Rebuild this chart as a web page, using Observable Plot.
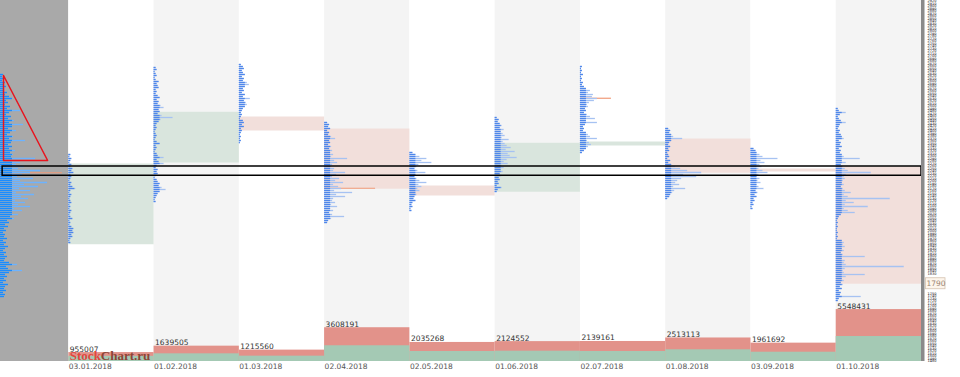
<!DOCTYPE html>
<html><head><meta charset="utf-8">
<script src="https://cdn.jsdelivr.net/npm/d3@7"></script>
<script src="https://cdn.jsdelivr.net/npm/@observablehq/plot@0.6"></script>
<style>
body{margin:0;background:#fff;}
#wrap{position:relative;width:960px;height:377px;}
#wrap svg{position:absolute;left:0;top:0;}
</style></head><body><div id="wrap"></div>
<script>
// ---------- data ----------
const monthLabels = ["03.01.2018","01.02.2018","01.03.2018","02.04.2018","02.05.2018","01.06.2018","02.07.2018","01.08.2018","03.09.2018","01.10.2018"];
const openPrice  = [1948, 2275, 2455, 2407, 2179, 2158, 2343, 2367, 2247, 2256];
const closePrice = [2267, 2474, 2403, 2170, 2143, 2350, 2355, 2234, 2239, 1790];
const volume   = [955007, 1639505, 1215560, 3608191, 2035268, 2124552, 2139161, 2513113, 1961692, 5548431];
const upVolume = [550000, 820000, 570000, 1680000, 1070000, 1100000, 1070000, 1250000, 990000, 2670000];
const lastPrice = 1790;
const profileStep = 8;
// top price level of each volume profile (summary first, then months)
const summaryTop = 2627;
const monthProfileTop = [2307, 2655, 2667, 2435, 2315, 2455, 2659, 2411, 2331, 2491];
// profile volumes (relative units) from the top level downwards
const summaryProfile = [3,2,4,2,5,3,6,4,3,7,5,9,12,6,8,5,10,7,20,9,6,11,8,14,9,23,12,8,16,10,7,13,9,25,11,8,12,9,15,10,13,11,35,14,20,16,24,18,40,30,22,17,33,20,47,24,38,19,30,16,34,21,28,15,25,18,30,14,22,12,18,10,14,7,9,5,8,4,6,3,5,4,7,3,6,4,8,5,3,6,4,7,5,4,9,17,6,8,22,9,5,7,4,6,3,8,5,4,6,3,5,4];
const janProfile = [2,1,3,2,1,3,2,4,3,5,2,3,2,1,3,2,4,7,2,1,3,2,1,2,3,1,2,1,3,2,1,2,4,1,2,1,3,5,4,5,3,4,2,1,2];
const febProfile = [2,3,1,2,3,1,2,5,3,4,5,2,3,2,4,6,3,5,4,7,10,5,6,4,8,19,7,5,3,2,3,2,1,2,3,2,1,3,6,2,3,2,1,3,4,10,3,5,10,3,2,4,3,4,2,1,3,4,6,5,8,12,6,4,3,2,1,2];
const marProfile = [2,4,5,3,4,6,3,5,4,8,10,6,4,5,3,6,4,11,5,7,8,6,4,3,2,3,2,1,4,5,3,5,2,3,2,1,2,1,2,1];
const aprProfile = [3,5,4,6,3,5,4,7,11,5,6,4,7,5,8,6,9,7,23,10,13,8,7,10,9,21,12,8,15,11,19,9,14,17,10,28,12,21,9,8,11,7,13,6,9,5,8,20,7,4,3];
const mayProfile = [3,6,10,17,12,22,9,7,5,8,16,6,5,7,10,17,9,12,8,10,6,7,5,4,6,3,2,3,1,2];
const junProfile = [2,4,3,5,7,5,9,6,8,10,7,14,8,10,12,16,11,20,13,15,22,12,9,13,7,9,6,8,5,7,4,5,3,4,2,7,3,2];
const julProfile = [2,1,2,1,3,1,2,1,3,2,4,6,10,8,13,12,17,14,9,7,8,5,6,4,7,10,15,6,17,5,3,4,3,6,8,10,17,7,9,11,8,6,4,2];
const augProfile = [3,5,4,6,8,17,6,4,3,5,3,4,2,3,4,2,5,3,6,10,15,22,36,18,31,16,12,10,14,8,20,9,7,5,4,2];
const sepProfile = [3,5,6,9,12,27,10,14,9,11,8,12,17,8,6,9,7,10,6,8,13,5,7,4,6,3,4,2,3,1,2];
const octProfile = [2,3,10,4,2,3,5,10,4,3,2,4,3,5,6,8,3,5,4,6,3,5,4,6,8,24,6,10,5,7,9,12,35,10,8,9,7,6,8,5,7,9,15,8,12,54,10,18,9,32,8,12,19,5,3,2,1,2,1,2,1,1,2,1,2,1,6,8,7,9,6,8,5,7,29,6,9,8,10,68,9,7,8,29,10,6,8,5,7,4,6,3,5,4,25,3,2];
// point-of-control marks (column: -1 = summary), price, relative volume
const pocColumn = [-1, 3, 6];
const pocPrice  = [2234, 2172, 2532];
const pocVolume = [62, 51, 31];
// annotations drawn on the chart
const frameBoxPrice = [2222, 2259];
const triangleX = [0.044, 0.044, 0.69, 0.044];   // share of the summary panel width
const trianglePrice = [2623, 2283, 2283, 2623];

// ---------- layout ----------
const W = 960, H = 377;
const panelStart = -0.801;             // summary panel (left) in month units
const unit = 1 / 85.27;                // one profile unit in month units
const yDomain = [1479, 2923];
const mT = 0, mB = 16, mL = 0, mR = 39;

const monthProfiles = [janProfile, febProfile, marProfile, aprProfile, mayProfile, junProfile, julProfile, augProfile, sepProfile, octProfile];
const rows = [];
summaryProfile.forEach((v, k) => rows.push({m: -1, price: summaryTop - k * profileStep, v}));
monthProfiles.forEach((arr, m) => arr.forEach((v, k) => rows.push({m, price: monthProfileTop[m] - k * profileStep, v})));
const colStart = m => m < 0 ? panelStart : m;

const idx = d3.range(10);
const boxes = idx.map(i => ({i, o: openPrice[i], c: closePrice[i], up: closePrice[i] >= openPrice[i]}));
const poc = pocColumn.map((c, k) => ({c, price: pocPrice[k], v: pocVolume[k]}));
const tri = triangleX.map((f, k) => ({x: panelStart + f * (-panelStart), price: trianglePrice[k]}));
const scaleTicks = d3.range(1480, 2924, 10).filter(t => Math.abs(t - lastPrice) > 36);

const main = Plot.plot({
  width: W, height: H, marginTop: mT, marginBottom: mB, marginLeft: mL, marginRight: mR,
  style: {fontFamily: "DejaVu Sans, sans-serif", fontSize: "7.5px", background: "white"},
  x: {domain: [panelStart, 10], axis: null},
  y: {domain: yDomain},
  marks: [
    Plot.rect([0], {x1: panelStart, x2: 0, fill: "#a9a9a9"}),
    Plot.rect(idx, {x1: d => d, x2: d => d + 1, fill: d => d % 2 ? "#f4f4f4" : "#ffffff"}),
    Plot.rect(boxes, {x1: "i", x2: d => d.i + 1, y1: "o", y2: "c", fill: d => d.up ? "#d9e5dd" : "#f2dfdb", insetBottom: -0.5, insetTop: -0.5}),
    Plot.ruleY(poc, {y: "price", x1: d => colStart(d.c), x2: d => colStart(d.c) + d.v * unit, stroke: "#f09a78", strokeWidth: 1.2}),
    Plot.ruleY(rows, {y: "price", x1: d => colStart(d.m), x2: d => colStart(d.m) + d.v * unit,
      stroke: d => d.m < 0 ? "#6db3ff" : "#a6c2f2", strokeWidth: 1.3}),
    Plot.ruleY(rows, {y: "price", x1: d => colStart(d.m), x2: d => colStart(d.m) + Math.min(d.v, d.m < 0 ? 12 : 6) * unit,
      stroke: d => d.m < 0 ? "#1a8cff" : "#4f87ea", strokeWidth: 1.3}),
    Plot.line(tri, {x: "x", y: "price", stroke: "#e8141e", strokeWidth: 1.5}),
    Plot.rect([0], {x1: panelStart + 0.025, x2: 10, y1: frameBoxPrice[0], y2: frameBoxPrice[1], fill: "none", stroke: "#000", strokeWidth: 1.5}),
    Plot.rect([0], {x1: 10, x2: 10 + 3.5 * unit, fill: "#8a8a8a"}),
    Plot.axisY({anchor: "right", ticks: scaleTicks, tickSize: 0, tickPadding: 6, fontSize: 3.5, fill: "#111", tickFormat: d => String(d)}),
    Plot.rect([lastPrice], {x1: 10 + 4.5 * unit, x2: 10 + 24 * unit, y1: d => d - 22, y2: d => d + 22, fill: "#fdf5ec", stroke: "#d4c2b0", strokeWidth: 0.8}),
    Plot.text([lastPrice], {x: 10, dx: 14.5, y: d => d, text: d => String(d), fill: "#9a8472", fontSize: 7.5}),
    Plot.text(monthLabels, {x: (d, i) => i, frameAnchor: "bottom", dy: 5.5, lineAnchor: "middle", textAnchor: "start", fill: "#555", fontSize: 7.5})
  ]
});

const vol = Plot.plot({
  width: W, height: H, marginTop: mT, marginBottom: mB, marginLeft: mL, marginRight: mR,
  style: {fontFamily: "DejaVu Sans, sans-serif", fontSize: "7.5px", background: "transparent"},
  x: {domain: [panelStart, 10], axis: null},
  y: {domain: [0, 38.57e6], axis: null},
  marks: [
    Plot.rect(idx, {x1: d => d, x2: d => d + 1, y1: 0, y2: d => volume[d], fill: "#e2928a"}),
    Plot.rect(idx, {x1: d => d, x2: d => d + 1, y1: 0, y2: d => upVolume[d], fill: "#a4c9b4"}),
    Plot.text(idx, {x: d => d, y: d => volume[d], text: d => String(volume[d]), textAnchor: "start", lineAnchor: "bottom", dx: 1, dy: -1, fill: "#333", fontSize: 7.5}),
    Plot.text(["Stock"], {x: 0, y: 0, dx: 1, dy: -1.5, textAnchor: "start", lineAnchor: "bottom", fill: "#e2473e", fontFamily: "Liberation Serif, serif", fontWeight: "bold", fontSize: 13}),
    Plot.text(["Chart.ru"], {x: 0, y: 0, dx: 32, dy: -1.5, textAnchor: "start", lineAnchor: "bottom", fill: "#8c4536", fontFamily: "Liberation Serif, serif", fontWeight: "bold", fontSize: 13})
  ]
});

const wrap = document.getElementById("wrap");
wrap.appendChild(main);
wrap.appendChild(vol);
</script></body></html>
